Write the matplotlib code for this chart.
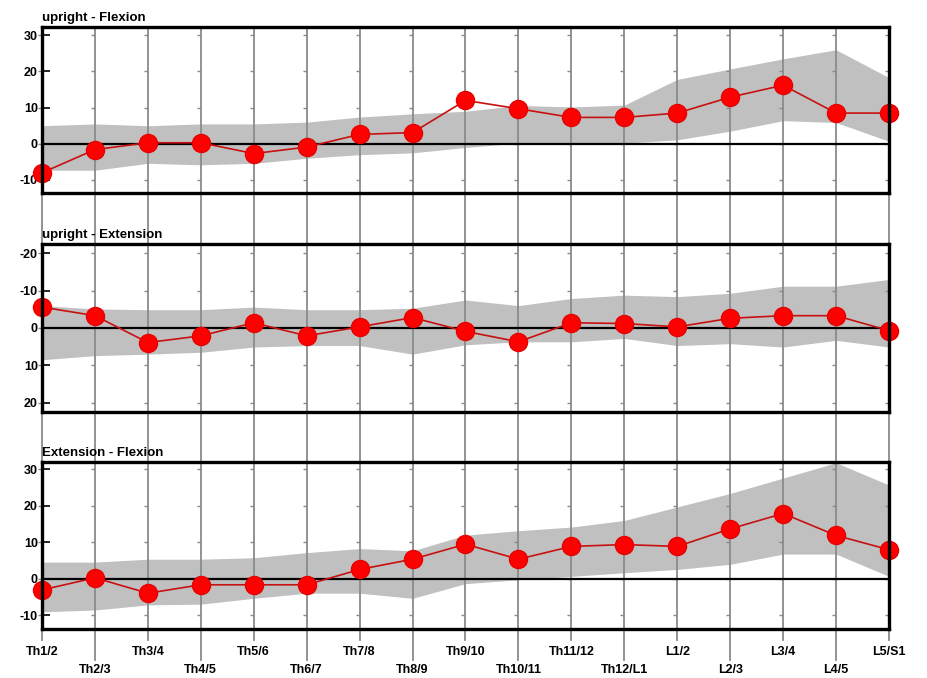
import matplotlib
matplotlib.use("Agg")
import matplotlib.pyplot as plt
from matplotlib.lines import Line2D
from matplotlib.transforms import blended_transform_factory

plt.rcParams['font.family'] = ['Liberation Sans', 'DejaVu Sans']

categories = ["Th1/2", "Th2/3", "Th3/4", "Th4/5", "Th5/6", "Th6/7", "Th7/8", "Th8/9",
              "Th9/10", "Th10/11", "Th11/12", "Th12/L1", "L1/2", "L2/3", "L3/4", "L4/5", "L5/S1"]

# Panel 1: upright - Flexion
p1_title = "upright - Flexion"
p1_values = [-8.0, -1.6, 0.3, 0.3, -2.7, -0.9, 2.6, 3.1, 12.0, 9.7, 7.3, 7.3, 8.5, 12.9, 16.2, 8.5, 8.5]
p1_upper = [5.0, 5.5, 5.0, 5.5, 5.5, 6.0, 7.4, 8.3, 9.0, 10.6, 10.2, 10.7, 17.8, 20.7, 23.5, 26.0, 18.3]
p1_lower = [-7.3, -7.3, -5.4, -5.8, -5.4, -4.0, -3.0, -2.5, -1.0, 0.2, 0.2, 0.2, 1.1, 3.5, 6.4, 5.9, 0.7]
p1_ticks = [30, 20, 10, 0, -10]

# Panel 2: upright - Extension (inverted axis)
p2_title = "upright - Extension"
p2_values = [-5.6, -3.3, 3.9, 2.1, -1.4, 2.1, -0.3, -2.8, 0.9, 3.7, -1.4, -1.2, -0.3, -2.6, -3.3, -3.3, 0.7]
p2_upper = [-6.0, -5.1, -4.9, -4.9, -5.6, -4.9, -4.9, -5.3, -7.5, -6.0, -7.9, -8.8, -8.4, -9.3, -11.2, -11.2, -13.0]
p2_lower = [8.5, 7.4, 7.0, 6.5, 5.1, 4.7, 4.7, 7.0, 4.5, 3.7, 3.7, 2.8, 4.7, 4.2, 5.1, 3.3, 5.1]
p2_ticks = [-20, -10, 0, 10, 20]

# Panel 3: Extension - Flexion
p3_title = "Extension - Flexion"
p3_values = [-3.0, 0.3, -3.9, -1.6, -1.6, -1.6, 2.6, 5.4, 9.5, 5.4, 8.9, 9.4, 8.9, 13.7, 17.9, 11.9, 8.0]
p3_upper = [4.6, 4.6, 5.4, 5.4, 5.8, 7.2, 8.3, 7.7, 12.0, 13.2, 14.2, 16.0, 19.7, 23.4, 27.6, 31.8, 25.7]
p3_lower = [-9.0, -8.5, -7.1, -6.9, -5.3, -3.9, -3.9, -5.3, -1.3, -0.2, 0.7, 1.7, 2.6, 4.0, 6.8, 6.8, 0.7]
p3_ticks = [30, 20, 10, 0, -10]

W, H = 928, 678
fig = plt.figure(figsize=(W / 100, H / 100), dpi=100)

left = 42 / W
width = (889 - 42) / W
panels = [
    (27, 193, p1_title, p1_values, p1_upper, p1_lower, p1_ticks, (-13.6, 32.3)),
    (244, 412, p2_title, p2_values, p2_upper, p2_lower, p2_ticks, (22.5, -22.5)),
    (462, 629, p3_title, p3_values, p3_upper, p3_lower, p3_ticks, (-13.7, 32.0)),
]

grid_color = "#8a8a8a"
band_color = "#c0c0c0"
x = list(range(len(categories)))
axes = []
for top, bot, title, vals, up, lo, ticks, ylim in panels:
    ax = fig.add_axes([left, 1 - bot / H, width, (bot - top) / H])
    axes.append(ax)
    ax.set_xlim(0, len(categories) - 1)
    ax.set_ylim(*ylim)
    ax.fill_between(x, lo, up, color=band_color, linewidth=0, zorder=1)
    for xi in x:
        ax.axvline(xi, color=grid_color, linewidth=1.3, zorder=1.5)
        for t in ticks:
            ax.plot([xi], [t], marker=0, markersize=3, color=grid_color,
                    markeredgewidth=1.0, zorder=1.6, clip_on=False)
    ax.axhline(0, color="black", linewidth=1.6, zorder=2)
    ax.plot(x, vals, color="#c81010", linewidth=1.2, marker="o", markersize=13,
            markerfacecolor="#ff0000", markeredgecolor="#e80000", zorder=4, clip_on=False)
    for s in ax.spines.values():
        s.set_linewidth(2.4)
        s.set_color("black")
        s.set_zorder(5)
    ax.set_yticks(ticks)
    ax.set_yticklabels([str(t) for t in ticks], fontsize=9, fontweight="bold")
    ax.tick_params(axis="y", direction="in", length=6, width=1.2, pad=3)
    ax.set_xticks([])
    ax.text(0.0, 1.02, title, transform=ax.transAxes, ha="left", va="bottom",
            fontsize=9.5, fontweight="bold")

# grid lines continuing through the gaps between panels and below the last panel
trans = blended_transform_factory(axes[0].transData, fig.transFigure)
gaps = [(193, 244), (412, 462)]
for xi in x:
    for g0, g1 in gaps:
        fig.add_artist(Line2D([xi, xi], [1 - g0 / H, 1 - g1 / H], color=grid_color,
                              linewidth=1.3, transform=trans, zorder=0))
    end = 660 if xi % 2 else 640
    fig.add_artist(Line2D([xi, xi], [1 - 629 / H, 1 - end / H], color=grid_color,
                          linewidth=1.3, transform=trans, zorder=0))
    ylab = 652 if xi % 2 == 0 else 670
    fig.text(xi, 1 - ylab / H, categories[xi], transform=trans, ha="center", va="center",
             fontsize=9, fontweight="bold")

fig.savefig("out.png", dpi=100)
